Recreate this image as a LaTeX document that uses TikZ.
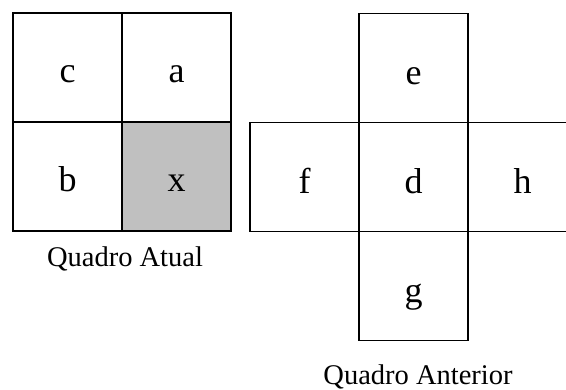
\documentclass[tikz,border=0pt]{standalone}
\usepackage{fontspec}
\setmainfont{Liberation Serif}
\usepackage{xcolor}
\usepackage{tikz}
\usetikzlibrary{positioning}

\definecolor{cellgray}{HTML}{C0C0C0}

\begin{document}
\begin{tikzpicture}[
  x=1pt, y=-1pt,
  node distance=0pt and 0pt,
  cell/.style={draw, line width=1.2pt, minimum size=109pt, inner sep=0pt, outer sep=0pt,
    text height=30pt, text depth=0pt, font=\fontsize{36}{40}\selectfont},
  prev/.style={cell, text height=34pt},
  cur/.style={cell, fill=cellgray},
  caption/.style={anchor=base, inner sep=0pt, font=\fontsize{28.5}{34}\selectfont}
]
\useasboundingbox (0,0) rectangle (566,390);
\clip (0,0) rectangle (566,390);

% quadro atual
\node[cell] (c) at (67.5,67.5) {c};
\node[cell, right=of c] (a) {a};
\node[cell, below=of c] (b) {b};
\node[cur, right=of b] (x) {x};
\node[caption] (atual) at (125,267) {Quadro Atual};

% quadro anterior
\node[prev] (e) at (413.5,68) {e};
\node[prev, below=of e] (d) {d};
\node[prev, left=of d] (f) {f};
\node[prev, right=of d] (h) {h};
\node[prev, below=of d] (g) {g};
\node[caption] (anterior) at (418,385) {Quadro Anterior};
\end{tikzpicture}
\end{document}
